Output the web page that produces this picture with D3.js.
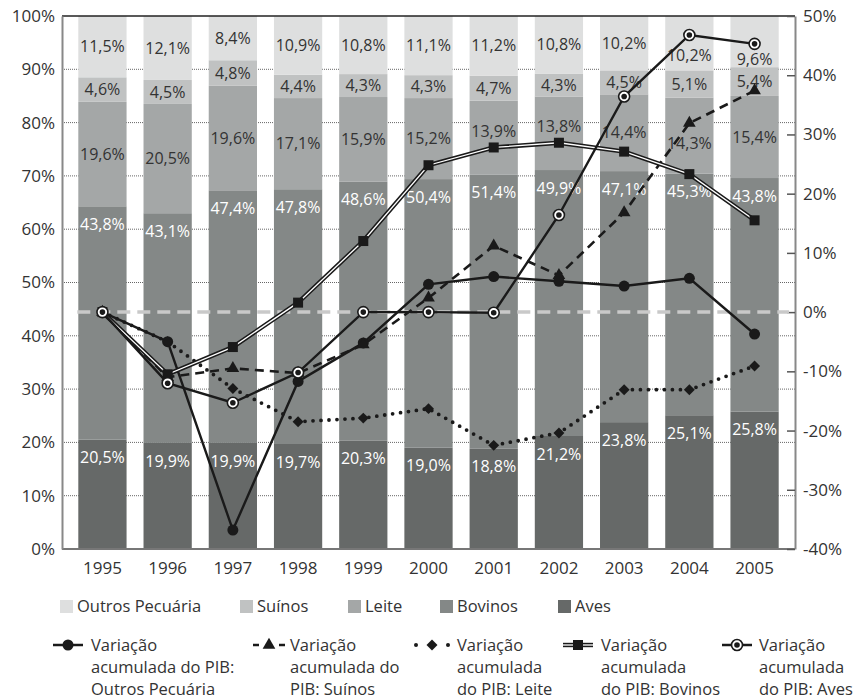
<!DOCTYPE html>
<html>
<head>
<meta charset="utf-8">
<script src="https://cdn.jsdelivr.net/npm/d3@7"></script>
<style>
  body { margin: 0; background: #fff; }
  svg text { font-family: "Open Sans", sans-serif; fill: #333; }
</style>
</head>
<body>
<div id="chart"></div>
<script>
// data
const years = ["1995","1996","1997","1998","1999","2000","2001","2002","2003","2004","2005"];

const aves    = [20.5, 19.9, 19.9, 19.7, 20.3, 19.0, 18.8, 21.2, 23.8, 25.1, 25.8];
const bovinos = [43.8, 43.1, 47.4, 47.8, 48.6, 50.4, 51.4, 49.9, 47.1, 45.3, 43.8];
const leite   = [19.6, 20.5, 19.6, 17.1, 15.9, 15.2, 13.9, 13.8, 14.4, 14.3, 15.4];
const suinos  = [4.6, 4.5, 4.8, 4.4, 4.3, 4.3, 4.7, 4.3, 4.5, 5.1, 5.4];
const outros  = [11.5, 12.1, 8.4, 10.9, 10.8, 11.1, 11.2, 10.8, 10.2, 10.2, 9.6];

const varOutros  = [0, -5.0, -36.8, -11.7, -5.2, 4.7, 6.0, 5.2, 4.4, 5.7, -3.7];
const varSuinos  = [0, -11.0, -9.5, -10.3, -5.5, 2.4, 11.2, 6.2, 16.8, 31.9, 37.4];
const varLeite   = [0, -5.0, -12.9, -18.5, -17.9, -16.3, -22.5, -20.4, -13.1, -13.1, -9.1];
const varBovinos = [0, -10.5, -5.9, 1.6, 12.0, 24.8, 27.8, 28.6, 27.1, 23.3, 15.5];
const varAves    = [0, -12.0, -15.3, -10.2, 0.0, 0.0, -0.1, 16.4, 36.4, 46.8, 45.3];

const leftTicks = [0,10,20,30,40,50,60,70,80,90,100];
const rightTicks = [-40,-30,-20,-10,0,10,20,30,40,50];

const width = 858, height = 700,
    margin = ({top: 16, right: 63, bottom: 151, left: 62});

const fmt = v => d3.format(".1f")(v).replace(".", ",") + "%";

const svg = d3.select("#chart")
    .append("svg")
    .attr("width", width)
    .attr("height", height);

let x = d3.scaleBand()
    .domain(years)
    .range([margin.left, width - margin.right])
    .paddingInner(0.26)
    .paddingOuter(0.25);

let y = d3.scaleLinear()
    .domain([0, 100])
    .range([height - margin.bottom, margin.top]);

let y2 = d3.scaleLinear()
    .domain([-40, 50])
    .range([height - margin.bottom, margin.top]);

const allVars = [varOutros, varSuinos, varLeite, varBovinos, varAves];

// dotted grid behind the bars
svg.append("g")
    .selectAll("line")
    .data(leftTicks.slice(1, -1))
    .join("line")
    .attr("x1", margin.left)
    .attr("x2", width - margin.right)
    .attr("y1", d => y(d))
    .attr("y2", d => y(d))
    .attr("stroke", "#666")
    .attr("stroke-width", 1)
    .attr("stroke-dasharray", "1,1");

// stacked bars
const series = [
    {name: "Aves", values: aves, color: "#666968", text: "#fff", inside: "top"},
    {name: "Bovinos", values: bovinos, color: "#848887", text: "#fff", inside: "top"},
    {name: "Leite", values: leite, color: "#a4a7a7", text: "#333", inside: "mid"},
    {name: "Suínos", values: suinos, color: "#c0c2c2", text: "#333", inside: "mid"},
    {name: "Outros Pecuária", values: outros, color: "#dedfdf", text: "#333", inside: "mid"}
];

const table = years.map((yr, i) => {
    const row = {year: yr};
    series.forEach(s => row[s.name] = s.values[i]);
    return row;
});

const stack = d3.stack().keys(series.map(s => s.name))(table);

// label position, nudged off a line marker that sits on top of it
function labelY(d, s) {
    const top = y(Math.min(d[1], 100)), bot = y(d[0]);
    if (s.inside == "top") return top + 18;
    let ly = (top + bot) / 2;
    if (s.name == "Suínos") return ly;
    const i = years.indexOf(d.data.year);
    allVars.forEach(v => {
        const m = y2(v[i]);
        if (Math.abs(m - ly) < 13) {
            if (m >= ly && m - 16 >= top + 14) ly = m - 16;
            else ly = Math.min(m + 20, bot - 8);
        }
    });
    return ly;
}

stack.forEach((layer, k) => {
    const s = series[k];
    const g = svg.append("g").attr("class", "bar");
    g.selectAll("rect")
        .data(layer)
        .join("rect")
        .attr("x", d => x(d.data.year))
        .attr("width", x.bandwidth())
        .attr("y", d => y(Math.min(d[1], 100)))
        .attr("height", d => y(d[0]) - y(Math.min(d[1], 100)))
        .attr("fill", s.color);
    g.selectAll("text")
        .data(layer)
        .join("text")
        .attr("x", d => x(d.data.year) + x.bandwidth() / 2)
        .attr("y", d => labelY(d, s))
        .attr("dy", "0.35em")
        .attr("text-anchor", "middle")
        .attr("font-size", 16)
        .style("fill", s.text)
        .text(d => fmt(d.data[s.name]));
});

// axes frame
svg.append("line")
    .attr("x1", margin.left).attr("x2", width - margin.right)
    .attr("y1", margin.top).attr("y2", margin.top)
    .attr("stroke", "#222").attr("stroke-width", 1.5);

svg.append("line")
    .attr("x1", margin.left).attr("x2", width - margin.right)
    .attr("y1", y(0)).attr("y2", y(0))
    .attr("stroke", "#777").attr("stroke-width", 2);

const yAxis = g => g
    .attr("transform", `translate(${margin.left},0)`)
    .call(d3.axisLeft(y).tickValues(leftTicks).tickSize(0).tickPadding(7).tickFormat(d => d + "%"))
    .call(g => g.select(".domain").attr("stroke", "#888").attr("stroke-width", 2))
    .call(g => g.selectAll("text").attr("font-size", 17).style("fill", "#333"));

const y2Axis = g => g
    .attr("transform", `translate(${width - margin.right},0)`)
    .call(d3.axisRight(y2).tickValues(rightTicks).tickSizeInner(-8).tickSizeOuter(0).tickPadding(8).tickFormat(d => d + "%"))
    .call(g => g.select(".domain").attr("stroke", "#888").attr("stroke-width", 2))
    .call(g => g.selectAll(".tick line").attr("stroke", "#555").attr("stroke-width", 1.5))
    .call(g => g.selectAll("text").attr("font-size", 17).style("fill", "#333"));

const xAxis = g => g
    .attr("transform", `translate(0,${y(0)})`)
    .call(d3.axisBottom(x).tickSize(0).tickPadding(13))
    .call(g => g.select(".domain").remove())
    .call(g => g.selectAll("text").attr("font-size", 17).style("fill", "#333"));

svg.append("g").call(yAxis);
svg.append("g").call(y2Axis);
svg.append("g").call(xAxis);

// zero reference line for the right axis
svg.append("line")
    .attr("x1", x(years[0]) - 1)
    .attr("x2", width - margin.right - 6)
    .attr("y1", y2(0)).attr("y2", y2(0))
    .attr("stroke", "#c9c9c9")
    .attr("stroke-width", 3.5)
    .attr("stroke-dasharray", "13,7");

// lines
const cx = i => x(years[i]) + x.bandwidth() / 2;
const line = d3.line().x((d, i) => cx(i)).y(d => y2(d));

function drawMarker(g, type, px, py) {
    if (type == "circle") {
        g.append("circle").attr("cx", px).attr("cy", py).attr("r", 5.5).attr("fill", "#1a1a1a");
    } else if (type == "triangle") {
        g.append("path").attr("transform", `translate(${px},${py})`)
            .attr("d", d3.symbol(d3.symbolTriangle, 70)()).attr("fill", "#1a1a1a");
    } else if (type == "diamond") {
        g.append("path").attr("transform", `translate(${px},${py}) rotate(45)`)
            .attr("d", d3.symbol(d3.symbolSquare, 60)()).attr("fill", "#1a1a1a");
    } else if (type == "square") {
        g.append("rect").attr("x", px - 5).attr("y", py - 5).attr("width", 10).attr("height", 10).attr("fill", "#1a1a1a");
    } else if (type == "ring") {
        g.append("circle").attr("cx", px).attr("cy", py).attr("r", 5.5).attr("fill", "#fff")
            .attr("stroke", "#1a1a1a").attr("stroke-width", 1.6);
        g.append("circle").attr("cx", px).attr("cy", py).attr("r", 2.8).attr("fill", "#1a1a1a");
    }
}

const lineSeries = [
    {values: varOutros, marker: "circle", style: "solid", label: ["Variação", "acumulada do PIB:", "Outros Pecuária"]},
    {values: varSuinos, marker: "triangle", style: "dashed", label: ["Variação", "acumulada do", "PIB: Suínos"]},
    {values: varLeite, marker: "diamond", style: "dotted", label: ["Variação", "acumulada", "do PIB: Leite"]},
    {values: varBovinos, marker: "square", style: "double", label: ["Variação", "acumulada", "do PIB: Bovinos"]},
    {values: varAves, marker: "ring", style: "solid", label: ["Variação", "acumulada", "do PIB: Aves"]}
];

function strokeLine(sel, style) {
    if (style == "solid") {
        sel.attr("stroke", "#1a1a1a").attr("stroke-width", 2.4);
    } else if (style == "dashed") {
        sel.attr("stroke", "#1a1a1a").attr("stroke-width", 2.6).attr("stroke-dasharray", "9,6");
    } else if (style == "dotted") {
        sel.attr("stroke", "#1a1a1a").attr("stroke-width", 3.8)
            .attr("stroke-linecap", "round").attr("stroke-dasharray", "0,8");
    }
}

lineSeries.forEach(s => {
    const g = svg.append("g");
    if (s.style == "double") {
        g.append("path").datum(s.values).attr("d", line).attr("fill", "none")
            .attr("stroke", "#1a1a1a").attr("stroke-width", 4.4);
        g.append("path").datum(s.values).attr("d", line).attr("fill", "none")
            .attr("stroke", "#fff").attr("stroke-width", 1.3);
    } else {
        g.append("path").datum(s.values).attr("d", line).attr("fill", "none")
            .call(sel => strokeLine(sel, s.style));
    }
    s.values.forEach((v, i) => drawMarker(g, s.marker, cx(i), y2(v)));
});

// legend: bars
const barLegendX = [60, 240, 348, 440, 558];
const barLegend = series.slice().reverse();
const lg1 = svg.append("g");
barLegend.forEach((s, i) => {
    lg1.append("rect").attr("x", barLegendX[i]).attr("y", 600).attr("width", 13).attr("height", 13).attr("fill", s.color);
    lg1.append("text").attr("x", barLegendX[i] + 17).attr("y", 612).attr("font-size", 16.5).text(s.name);
});

// legend: lines
const lineLegend = [
    {sx: 68, tx: 91},
    {sx: 269, tx: 290},
    {sx: 432, tx: 457},
    {sx: 578, tx: 601},
    {sx: 737, tx: 759}
];
const lg2 = svg.append("g");
lineSeries.forEach((s, i) => {
    const p = lineLegend[i], ly = 645;
    if (s.style == "double") {
        lg2.append("line").attr("x1", p.sx - 15).attr("x2", p.sx + 15).attr("y1", ly).attr("y2", ly)
            .attr("stroke", "#1a1a1a").attr("stroke-width", 4.4);
        lg2.append("line").attr("x1", p.sx - 15).attr("x2", p.sx + 15).attr("y1", ly).attr("y2", ly)
            .attr("stroke", "#fff").attr("stroke-width", 1.3);
    } else if (s.style == "dotted") {
        [-16, 16].forEach(o => lg2.append("circle").attr("cx", p.sx + o).attr("cy", ly).attr("r", 2).attr("fill", "#1a1a1a"));
    } else if (s.style == "dashed") {
        [-1, 1].forEach(o => lg2.append("line").attr("x1", p.sx + o * 10).attr("x2", p.sx + o * 16)
            .attr("y1", ly).attr("y2", ly).attr("stroke", "#1a1a1a").attr("stroke-width", 2.5));
    } else {
        lg2.append("line").attr("x1", p.sx - 15).attr("x2", p.sx + 15).attr("y1", ly).attr("y2", ly)
            .attr("stroke", "#1a1a1a").attr("stroke-width", 2.5);
    }
    drawMarker(lg2, s.marker, p.sx, ly);
    s.label.forEach((t, j) => {
        lg2.append("text").attr("x", p.tx).attr("y", ly + 6 + j * 22).attr("font-size", 16.5).text(t);
    });
});
</script>
</body>
</html>
